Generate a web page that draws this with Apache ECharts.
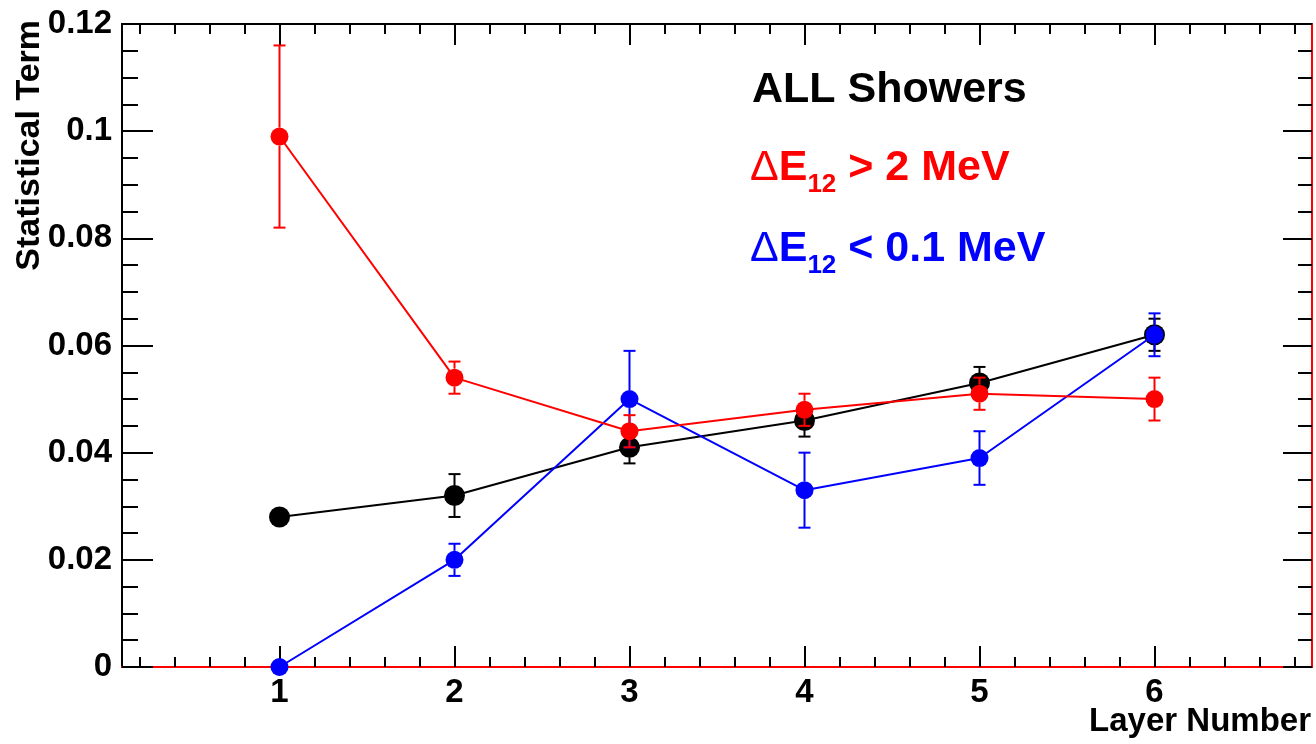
<!DOCTYPE html>
<html>
<head>
<meta charset="utf-8">
<script src="https://cdn.jsdelivr.net/npm/echarts@6/dist/echarts.min.js"></script>
<style>
  html, body { margin: 0; padding: 0; background: #fff; }
  #main { width: 1316px; height: 744px; }
</style>
</head>
<body>
<div id="main"></div>
<script>
// layer numbers on the x axis
var layers = [1, 2, 3, 4, 5, 6]
var minorX = [0.2, 0.4, 0.6, 0.8, 1.2, 1.4, 1.6, 1.8, 2.2, 2.4, 2.6, 2.8, 3.2, 3.4, 3.6, 3.8,
  4.2, 4.4, 4.6, 4.8, 5.2, 5.4, 5.6, 5.8, 6.2, 6.4, 6.6, 6.8]

// ALL showers (black)
var allVals = [0.028, 0.032, 0.041, 0.046, 0.053, 0.062]
var allErr = [0, 0.004, 0.003, 0.003, 0.003, 0.003]
// dE12 > 2 MeV (red)
var redVals = [0.099, 0.054, 0.044, 0.048, 0.051, 0.050]
var redErr = [0.017, 0.003, 0.003, 0.003, 0.003, 0.004]
// dE12 < 0.1 MeV (blue)
var blueVals = [0, 0.020, 0.050, 0.033, 0.039, 0.062]
var blueErr = [0, 0.003, 0.009, 0.007, 0.005, 0.004]

var FONT = "'Liberation Sans', Arial, Helvetica, sans-serif"

function pts(vals) {
  return layers.map(function (l, i) { return [l, vals[i]] })
}
function errPts(vals, errs) {
  return layers.map(function (l, i) { return [l, vals[i], errs[i]] })
}

// vertical error bars with a gap around the marker, like ROOT draws them
function errRender(color, r) {
  return function (params, api) {
    var x = api.value(0), y = api.value(1), e = api.value(2)
    if (!e) return null
    var c = api.coord([x, y])
    var t = api.coord([x, y + e])
    var b = api.coord([x, y - e])
    var st = { stroke: color, lineWidth: 2 }
    var kids = []
    if (t[1] < c[1] - r) {
      kids.push({ type: 'line', shape: { x1: c[0], y1: t[1], x2: c[0], y2: c[1] - r }, style: st })
    }
    kids.push({ type: 'line', shape: { x1: c[0] - 6, y1: t[1], x2: c[0] + 6, y2: t[1] }, style: st })
    if (b[1] > c[1] + r) {
      kids.push({ type: 'line', shape: { x1: c[0], y1: c[1] + r, x2: c[0], y2: b[1] }, style: st })
    }
    kids.push({ type: 'line', shape: { x1: c[0] - 6, y1: b[1], x2: c[0] + 6, y2: b[1] }, style: st })
    return { type: 'group', children: kids }
  }
}

function lineSeries(vals, color, size, z) {
  return {
    type: 'line',
    data: pts(vals),
    symbol: 'circle',
    symbolSize: size,
    z: z,
    lineStyle: { color: color, width: 2 },
    itemStyle: { color: color },
    emphasis: { disabled: true },
    animation: false
  }
}

function errSeries(vals, errs, color, r, z) {
  return {
    type: 'custom',
    data: errPts(vals, errs),
    renderItem: errRender(color, r),
    z: z,
    encode: { x: 0, y: 1 },
    animation: false
  }
}

function xAx(pos, vals, len, labels, lineColor) {
  return {
    type: 'value',
    position: pos,
    min: 0.1,
    max: 6.9,
    splitLine: { show: false },
    axisLine: { show: !!lineColor, lineStyle: { color: lineColor || '#000', width: 2 } },
    axisTick: { show: true, inside: true, length: len, customValues: vals, lineStyle: { color: '#000', width: 2 } },
    axisLabel: {
      show: labels,
      customValues: vals,
      margin: 9,
      color: '#000',
      fontFamily: FONT,
      fontWeight: 'bold',
      fontSize: 33
    }
  }
}

function legendText(y, label, color) {
  return {
    type: 'text', x: 750, y: y, z: 100,
    style: {
      text: '{d|\u0394}{m|E}{s|12}{m| ' + label + '}',
      fill: color,
      verticalAlign: 'middle',
      rich: {
        d: { fontSize: 43, fontFamily: FONT, fontWeight: 'normal', fill: color, lineHeight: 60 },
        m: { fontSize: 43, fontFamily: FONT, fontWeight: 'bold', fill: color, lineHeight: 60 },
        s: { fontSize: 26, fontFamily: FONT, fontWeight: 'bold', fill: color, verticalAlign: 'bottom', lineHeight: 8 }
      }
    }
  }
}

function main() {
  var myChart = echarts.init(document.getElementById('main'))
  var option = {
    backgroundColor: '#fff',
    animation: false,
    grid: {
      left: 122, right: 4, top: 24, bottom: 77,
      show: true, borderColor: '#000', borderWidth: 2
    },
    xAxis: [
      xAx('bottom', layers, 21, true, '#ff0000'),
      xAx('bottom', minorX, 10, false),
      xAx('top', layers, 21, false),
      xAx('top', minorX, 10, false)
    ],
    yAxis: [
      {
        type: 'value',
        position: 'left',
        min: 0,
        max: 0.12,
        interval: 0.02,
        splitLine: { show: false },
        axisLine: { show: true, lineStyle: { color: '#000', width: 2 } },
        axisTick: { inside: true, length: 31, lineStyle: { color: '#000', width: 2 } },
        minorTick: { show: true, splitNumber: 4, length: 16, lineStyle: { color: '#000', width: 2 } },
        axisLabel: {
          margin: 10,
          color: '#000',
          fontFamily: FONT,
          fontWeight: 'bold',
          fontSize: 33
        }
      },
      {
        type: 'value',
        position: 'right',
        min: 0,
        max: 0.12,
        interval: 0.02,
        splitLine: { show: false },
        axisLine: { show: true, lineStyle: { color: '#ff0000', width: 2 } },
        axisTick: { inside: true, length: 29, lineStyle: { color: '#000', width: 2 } },
        minorTick: { show: true, splitNumber: 4, length: 14, lineStyle: { color: '#000', width: 2 } },
        axisLabel: { show: false }
      }
    ],
    graphic: [
      {
        type: 'text', x: 1311, y: 722, z: 100,
        style: { text: 'Layer Number', fill: '#000', font: 'bold 33px ' + FONT, align: 'right', verticalAlign: 'middle' }
      },
      {
        type: 'text', x: 30, y: 20, rotation: Math.PI / 2, z: 100,
        style: { text: 'Statistical Term', fill: '#000', font: 'bold 34px ' + FONT, align: 'right', verticalAlign: 'middle' }
      },
      {
        type: 'text', x: 752, y: 90, z: 100,
        style: { text: 'ALL Showers', fill: '#000', font: 'bold 43px ' + FONT, verticalAlign: 'middle' }
      },
      legendText(168, '> 2 MeV', '#ff0000'),
      legendText(249, '< 0.1 MeV', '#0000ff')
    ],
    series: [
      errSeries(allVals, allErr, '#000', 10, 2),
      lineSeries(allVals, '#000', 21, 3),
      errSeries(blueVals, blueErr, '#0000ff', 9, 4),
      lineSeries(blueVals, '#0000ff', 18, 5),
      errSeries(redVals, redErr, '#ff0000', 9, 6),
      lineSeries(redVals, '#ff0000', 18, 7)
    ]
  }
  myChart.setOption(option)
}

window.onload = main
</script>
</body>
</html>
